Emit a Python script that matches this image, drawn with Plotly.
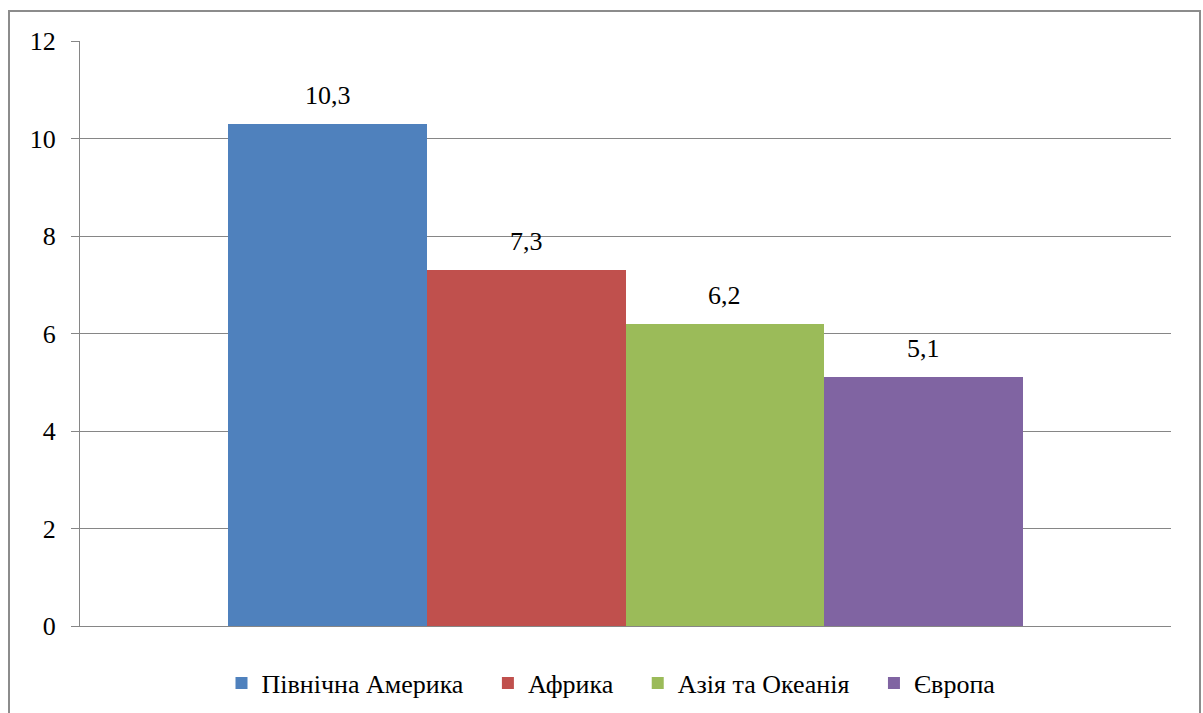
import plotly.graph_objects as go

regions = ["Північна Америка", "Африка", "Азія та Океанія", "Європа"]
values = [10.3, 7.3, 6.2, 5.1]
colors = ["#4F81BD", "#C0504D", "#9BBB59", "#8064A2"]
y_ticks = [0, 2, 4, 6, 8, 10, 12]

FONT = "Liberation Serif"
W, H = 1203, 713
L, R, T, B = 80, 32, 41, 87
pw, ph = W - L - R, H - T - B

fig = go.Figure()
for i, (name, v, c) in enumerate(zip(regions, values, colors)):
    pad = "" if i == len(regions) - 1 else "\u00a0\u00a0\u00a0"
    fig.add_trace(go.Bar(x=[i], y=[v], name=name + pad, marker=dict(color=c, line=dict(width=0)),
                         width=1.0, hoverinfo="skip"))
    fig.add_annotation(x=i, y=v, text=f"{v:.1f}".replace(".", ","), showarrow=False,
                       yanchor="bottom", yshift=12, font=dict(family=FONT, size=26, color="black"))

def px_x(p):
    return (p - L) / pw

def px_y(p):
    return (H - B - p) / ph

fig.add_shape(type="rect", xref="paper", yref="paper",
              x0=px_x(9), x1=px_x(1200), y0=px_y(720), y1=px_y(11),
              line=dict(color="#8c8c8c", width=2), layer="below")

fig.update_layout(
    template="none",
    width=W, height=H,
    margin=dict(l=L, r=R, t=T, b=B, autoexpand=False),
    barmode="overlay", bargap=0,
    font=dict(family=FONT, size=26, color="black"),
    showlegend=True,
    legend=dict(orientation="h", x=px_x(611), xanchor="center", y=px_y(683), yanchor="middle",
                traceorder="normal", itemwidth=30),
    xaxis=dict(range=[-1.248, 4.248], showticklabels=False, showgrid=False, zeroline=False,
               showline=True, linecolor="#868686", linewidth=1, ticks="", fixedrange=True),
    yaxis=dict(range=[0, 12], tickvals=y_ticks, ticktext=[str(t) for t in y_ticks],
               showgrid=True, gridcolor="#868686", gridwidth=1, zeroline=False,
               showline=True, linecolor="#868686", linewidth=1,
               ticks="outside", ticklen=8, tickcolor="#868686", tickwidth=1,
               ticklabelstandoff=10),
)

fig.write_html("out.html")
